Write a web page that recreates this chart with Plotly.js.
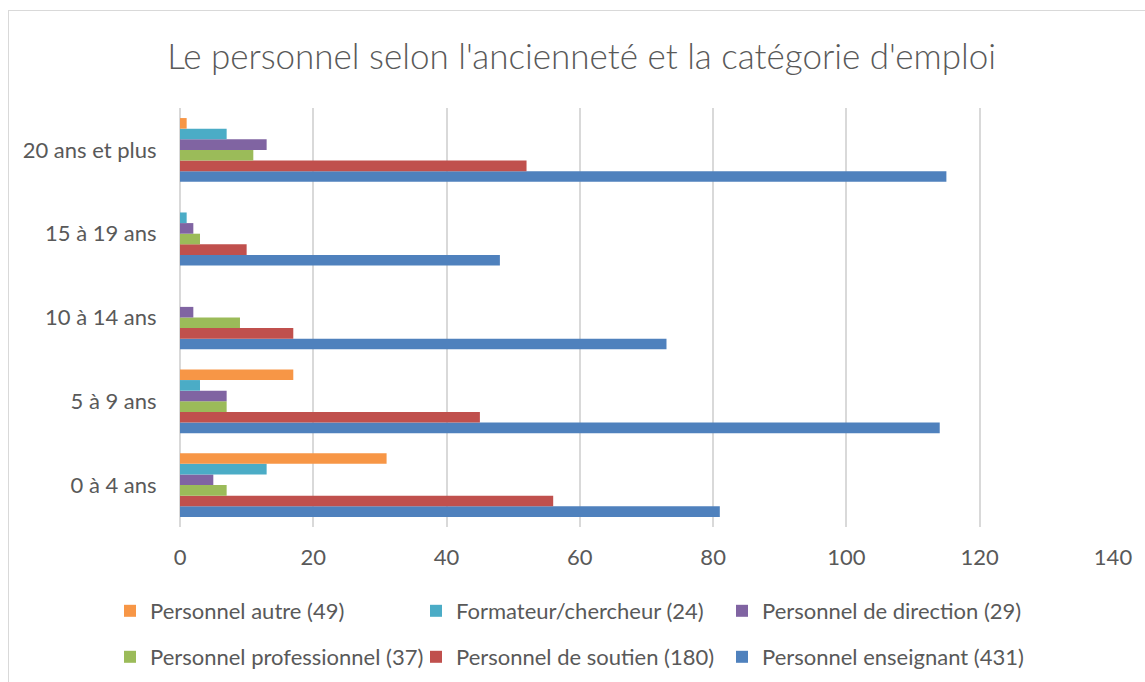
<!DOCTYPE html>
<html>
<head>
<meta charset="utf-8">
<script src="https://cdn.plot.ly/plotly-3.0.1.min.js"></script>
<style>
html,body{margin:0;padding:0;background:#fff;}
#frame{position:absolute;left:8px;top:10px;width:1150px;height:680px;border:1px solid #d9d9d9;pointer-events:none;z-index:5;}
#chart{position:absolute;left:0;top:0;width:1145px;height:682px;}
</style>
</head>
<body>
<div id="chart"></div>
<div id="frame"></div>
<script>
const categories = ['0 à 4 ans','5 à 9 ans','10 à 14 ans','15 à 19 ans','20 ans et plus'];
const enseignant = [81, 114, 73, 48, 115];
const soutien = [56, 45, 17, 10, 52];
const professionnel = [7, 7, 9, 3, 11];
const direction = [5, 7, 2, 2, 13];
const formateur = [13, 3, 0, 1, 7];
const autre = [31, 17, 0, 0, 1];
const seriesNames = ['Personnel enseignant (431)','Personnel de soutien (180)','Personnel professionnel (37)','Personnel de direction (29)','Formateur/chercheur (24)','Personnel autre (49)'];
const colors = ['#4F81BD','#C0504D','#9BBB59','#8064A2','#4BACC6','#F79646'];
const values = [enseignant, soutien, professionnel, direction, formateur, autre];
const legendIds = ['legend6','legend5','legend4','legend3','legend2','legend'];

const traces = values.map((v,i)=>({
  type:'bar', orientation:'h', y:categories, x:v, name:seriesNames[i],
  marker:{color:colors[i]}, legend:legendIds[i], hoverinfo:'x+name'
}));

const font = 'Lato, "Open Sans", sans-serif';
const L = 180, T = 108, PW = 933, PH = 419;
function leg(textX, rowY){
  return {
    orientation:'h', font:{family:font,size:22,color:'#595959'},
    itemwidth:30, xanchor:'left', yanchor:'middle', bgcolor:'rgba(0,0,0,0)',
    x:(textX - 41 - L)/PW, y:1 - (rowY - T)/PH
  };
}
const layout = {
  width:1145, height:682,
  margin:{l:L, r:1145-L-PW, t:T, b:682-T-PH, autoexpand:false},
  paper_bgcolor:'#fff', plot_bgcolor:'#fff',
  font:{family:font, color:'#595959'},
  title:{text:"Le personnel selon l'ancienneté et la catégorie d'emploi", font:{family:font,size:35,color:'#595959',weight:300}, x:0.508, xanchor:'center', y:1-57/682, yanchor:'middle', xref:'container', yref:'container'},
  barmode:'group', bargap:0.24, bargroupgap:0,
  xaxis:{range:[0,140], dtick:20, showgrid:true, gridcolor:'#d9d9d9', gridwidth:2, zeroline:true, zerolinecolor:'#d9d9d9', zerolinewidth:2, showline:false, ticks:'outside', ticklen:11, tickcolor:'rgba(0,0,0,0)', tickfont:{family:font,size:22,color:'#595959'}, fixedrange:true, automargin:false},
  yaxis:{type:'category', showgrid:false, zeroline:false, showline:false, ticks:'outside', ticklen:18, tickcolor:'rgba(0,0,0,0)', tickfont:{family:font,size:22,color:'#595959'}, fixedrange:true, automargin:false},
  legend: leg(151, 611),
  legend2: leg(457, 611),
  legend3: leg(763, 611),
  legend4: leg(151, 657),
  legend5: leg(457, 657),
  legend6: leg(763, 657),
  showlegend:true
};
Plotly.newPlot('chart', traces, layout, {displayModeBar:false, staticPlot:true});
</script>
</body>
</html>
